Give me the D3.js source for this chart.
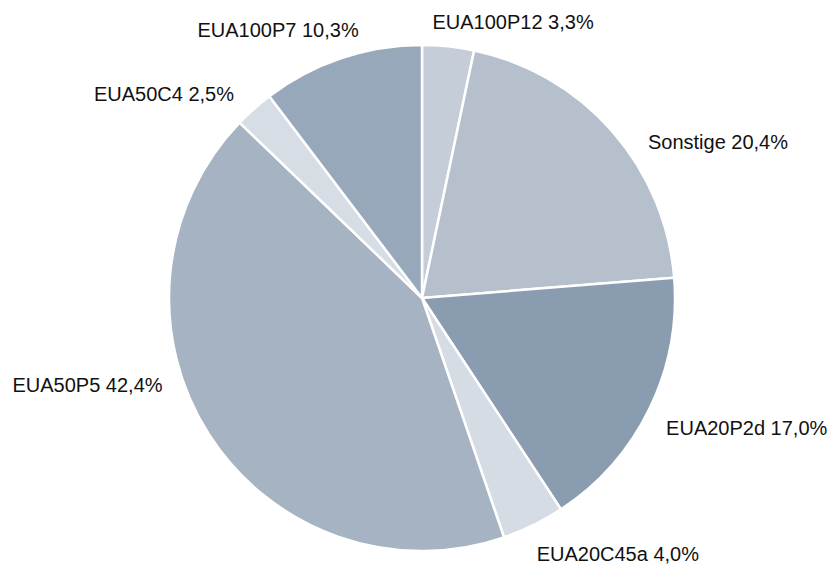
<!DOCTYPE html>
<html><head><meta charset="utf-8">
<script src="https://cdn.jsdelivr.net/npm/d3@7"></script>
<style>body{margin:0;background:#fff}svg{display:block}</style>
</head><body>
<svg id="c" width="832" height="566"></svg>
<script>
const categories = ["EUA100P12","Sonstige","EUA20P2d","EUA20C45a","EUA50P5","EUA50C4","EUA100P7"];
const values = [3.3,20.4,17.0,4.0,42.4,2.5,10.3];
const colors = ["#c5ced8","#b5c0cc","#8a9db0","#d5dce4","#a5b3c2","#d6dde5","#97a8ba"];
const labelNudge = {"EUA100P12":[-17,-12],"Sonstige":[27,19],"EUA20P2d":[6,14],"EUA20C45a":[-2,18],"EUA50P5":[-36,-55],"EUA50C4":[-12,-6],"EUA100P7":[21,-17]};

const svg = d3.select("#c");
const cx = 422, cy = 298, R = 253;
const data = categories.map((c,i)=>({name:c,value:values[i],color:colors[i]}));
const pie = d3.pie().sort(null).value(d=>d.value);
const arcs = pie(data);
const arc = d3.arc().innerRadius(0).outerRadius(R);
const g = svg.append("g").attr("transform",`translate(${cx},${cy})`);
g.selectAll("path").data(arcs).join("path")
  .attr("d",arc).attr("fill",d=>d.data.color)
  .attr("stroke","#fff").attr("stroke-width",2.5).attr("stroke-linejoin","round");
const fmt = v => v.toFixed(1).replace(".",",")+"%";
const lr = 265;
g.selectAll("text").data(arcs).join("text")
  .each(function(d){
    const a=(d.startAngle+d.endAngle)/2;
    const n=labelNudge[d.data.name]||[0,0];
    const x=Math.sin(a)*lr+n[0], y=-Math.cos(a)*lr+n[1];
    d3.select(this).attr("x",x).attr("y",y)
      .attr("text-anchor", Math.sin(a)>=0?"start":"end")
      .attr("dominant-baseline","central");
  })
  .attr("font-family","Liberation Sans, Arial, sans-serif").attr("font-size",20).attr("fill","#111")
  .text(d=>d.data.name+" "+fmt(d.data.value));
</script>
</body></html>
